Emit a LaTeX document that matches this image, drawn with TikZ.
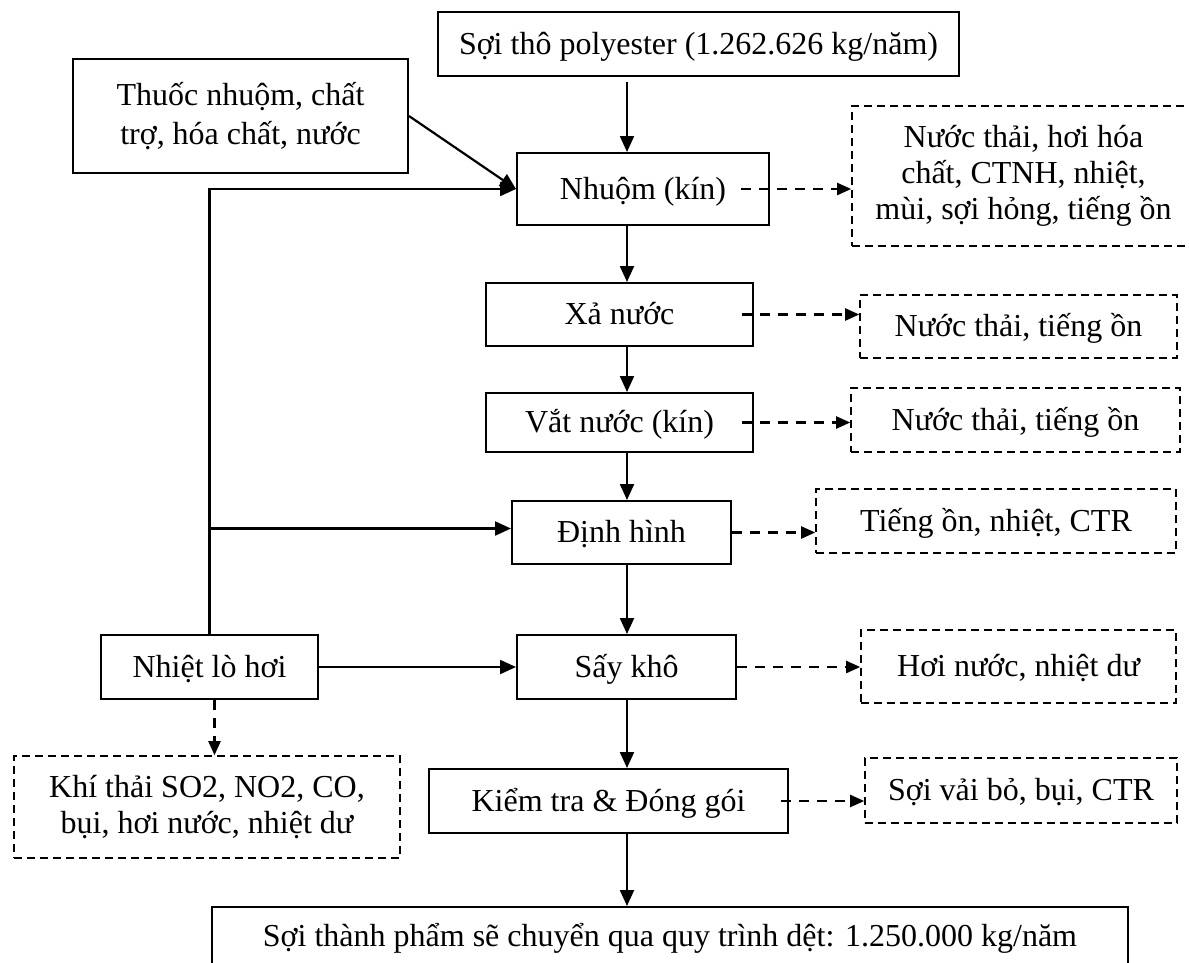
\documentclass[tikz,border=0pt]{standalone}
\usepackage{fontspec}
\setmainfont{Liberation Serif}
\usetikzlibrary{arrows.meta}
\newcommand\dfont{\fontsize{32}{36}\selectfont}
\begin{document}
\begin{tikzpicture}[x=1pt,y=-1pt,
  box/.style={draw, line width=2pt, align=center, inner sep=0pt, font=\dfont},
  dbox/.style={draw, line width=1.6pt, dash pattern=on 8pt off 5pt, align=center, inner sep=0pt, font=\dfont},
  one/.style={text height=26pt, text depth=6pt},
  arr/.style={line width=2.2pt, -{Triangle[length=16pt,width=14pt]}},
  darr/.style={line width=2.2pt, dash pattern=on 10pt off 8pt, -{Triangle[length=14pt,width=12pt]}}]
\useasboundingbox (0,0) rectangle (1189,962);
% process boxes
\node[box, one, anchor=west, minimum height=64pt, inner xsep=21pt] (top) at (437,44) {Sợi thô polyester (1.262.626 kg/năm)};
\node[box, minimum width=335pt, minimum height=114pt] (thuoc) at (240.5,116) {Thuốc nhuộm, chất\\[3pt]trợ, hóa chất, nước};
\node[box, one, minimum width=252pt, minimum height=72pt] (nhuom) at (643,189) {Nhuộm (kín)};
\node[box, one, minimum width=267pt, minimum height=63pt] (xa) at (619.5,314.5) {Xả nước};
\node[box, one, minimum width=267pt, minimum height=59pt] (vat) at (619.5,422.5) {Vắt nước (kín)};
\node[box, one, minimum width=219pt, minimum height=63pt] (dinh) at (621.5,532.5) {Định hình};
\node[box, one, minimum width=219pt, minimum height=64pt] (say) at (626.5,667) {Sấy khô};
\node[box, one, minimum width=217pt, minimum height=64pt] (nhiet) at (209.5,667) {Nhiệt lò hơi};
\node[box, one, minimum width=359pt, minimum height=64pt] (kiem) at (608.5,801) {Kiểm tra \& Đóng gói};
\node[box, one, minimum width=916pt, minimum height=58pt] (bottom) at (670,936) {Sợi thành phẩm sẽ chuyển qua quy trình dệt: 1.250.000 kg/năm};
% waste boxes
\node[dbox, minimum width=343pt, minimum height=140pt] (d1) at (1023.5,176) {Nước thải, hơi hóa\\chất, CTNH, nhiệt,\\mùi, sợi hỏng, tiếng ồn};
\node[dbox, one, minimum width=317pt, minimum height=63pt] (d2) at (1018.5,326.5) {Nước thải, tiếng ồn};
\node[dbox, one, minimum width=329pt, minimum height=64pt] (d3) at (1015.5,420) {Nước thải, tiếng ồn};
\node[dbox, one, minimum width=360pt, minimum height=64pt] (d4) at (996,521) {Tiếng ồn, nhiệt, CTR};
\node[dbox, one, minimum width=315pt, minimum height=73pt] (d5) at (1018.5,666.5) {Hơi nước, nhiệt dư};
\node[dbox, one, minimum width=312pt, minimum height=65pt] (d6) at (1021,790.5) {Sợi vải bỏ, bụi, CTR};
\node[dbox, minimum width=386pt, minimum height=102pt] (khi) at (207,807) {Khí thải SO2, NO2, CO,\\bụi, hơi nước, nhiệt dư};
% main column
\coordinate (col) at (627,0);
\draw[arr, shorten <=5pt] (col |- top.south) -- (col |- nhuom.north);
\draw[arr] (col |- nhuom.south) -- (col |- xa.north);
\draw[arr] (col |- xa.south) -- (col |- vat.north);
\draw[arr] (col |- vat.south) -- (col |- dinh.north);
\draw[arr] (col |- dinh.south) -- (col |- say.north);
\draw[arr] (col |- say.south) -- (col |- kiem.north);
\draw[arr] (col |- kiem.south) -- (col |- bottom.north);
% inputs
\draw[arr] (thuoc.east) -- (nhuom.west);
\draw[arr] (nhiet.north) |- (nhuom.west);
\draw[arr] (nhiet.north) |- ([yshift=4pt]dinh.west);
\draw[arr] (nhiet.east) -- (say.west);
% wastes
\draw[darr] ([xshift=-29pt]nhuom.east) -- (nhuom.east -| d1.west);
\draw[darr] ([xshift=-12pt]xa.east) -- (xa.east -| d2.west);
\draw[darr] ([xshift=-12pt]vat.east) -- (vat.east -| d3.west);
\draw[darr] (dinh.east) -- (dinh.east -| d4.west);
\draw[darr] (say.east) -- (say.east -| d5.west);
\draw[darr] ([xshift=-8pt]kiem.east) -- (kiem.east -| d6.west);
\draw[darr] ([xshift=5pt]nhiet.south) -- ([xshift=5pt]nhiet.south |- khi.north);
\end{tikzpicture}
\end{document}
